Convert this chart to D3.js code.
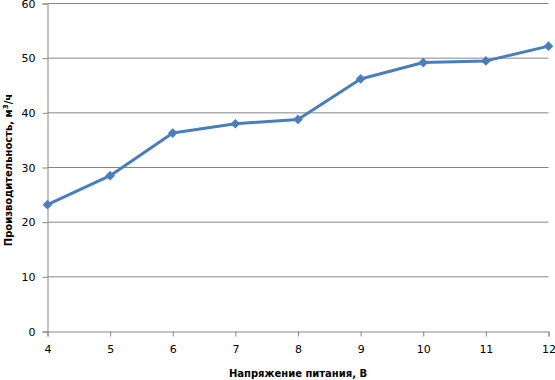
<!DOCTYPE html>
<html><head><meta charset="utf-8">
<script src="https://cdn.jsdelivr.net/npm/d3@7"></script>
<style>body{margin:0;background:#fff}svg{display:block}</style>
</head><body>
<svg id="c" width="555" height="380"></svg>
<script>
const voltage = [4,5,6,7,8,9,10,11,12];
const output = [23.2,28.5,36.3,38.0,38.8,46.2,49.2,49.5,52.2];
const yTicks = [0,10,20,30,40,50,60];
const xTitle = "Напряжение питания, В";

const svg = d3.select("#c");
const x = d3.scaleLinear().domain([4,12]).range([47.5,548.5]);
const y = d3.scaleLinear().domain([0,60]).range([331.5,3.5]);
const font = "DejaVu Sans, Verdana, sans-serif";

svg.append("g").selectAll("line").data(yTicks.filter(d=>d>0)).join("line")
  .attr("x1",x(4)).attr("x2",x(12)).attr("y1",d=>y(d)).attr("y2",d=>y(d))
  .attr("stroke","#868686").attr("stroke-width",1);

const xa = svg.append("g").attr("transform",`translate(0,${y(0)})`)
  .call(d3.axisBottom(x).tickValues(voltage).tickSize(5).tickPadding(9).tickFormat(d3.format("d")));
const ya = svg.append("g").attr("transform",`translate(${x(4)},0)`)
  .call(d3.axisLeft(y).tickValues(yTicks).tickSize(5).tickPadding(7));
[xa,ya].forEach(a=>{
  a.select(".domain").attr("stroke","#868686");
  a.selectAll(".tick line").attr("stroke","#868686");
  a.selectAll("text").attr("fill","#000").style("font-family",font).style("font-size","11px");
});

const line = d3.line().x((d,i)=>x(voltage[i])).y(d=>y(d));
svg.append("path").datum(output).attr("d",line).attr("fill","none")
  .attr("stroke","#4a7ebb").attr("stroke-width",3).attr("stroke-linejoin","round");
svg.append("g").selectAll("path").data(output).join("path")
  .attr("transform",(d,i)=>`translate(${x(voltage[i])},${y(d)})`)
  .attr("d",d3.symbol(d3.symbolDiamond2,60)).attr("fill","#4a7ebb");

svg.append("text").attr("x",298).attr("y",377).attr("text-anchor","middle")
  .style("font-family",font).style("font-size","10px").style("font-weight","bold").text(xTitle);
const yt = svg.append("text").attr("transform","translate(12,170) rotate(-90)").attr("text-anchor","middle")
  .style("font-family",font).style("font-size","10px").style("font-weight","bold");
yt.append("tspan").text("Производительность,  м");
yt.append("tspan").attr("dy",-4).style("font-size","7px").text("3");
yt.append("tspan").attr("dy",4).text("/ч");
</script>
</body></html>
